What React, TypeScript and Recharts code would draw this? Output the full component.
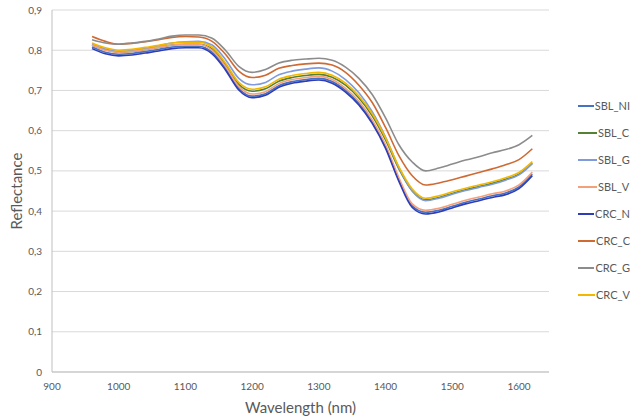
import { LineChart, Line, XAxis, YAxis, CartesianGrid, Legend } from "recharts";

const wavelengths = [
  960, 980, 1000, 1020, 1040, 1060, 1080, 1100, 1120, 1140, 1160, 1180, 1200, 1220, 1240, 1260, 1280,
  1300, 1320, 1340, 1360, 1380, 1400, 1420, 1440, 1460, 1480, 1500, 1520, 1540, 1560, 1580, 1600, 1620,
];

const sblN = [
  0.808, 0.795, 0.79, 0.792, 0.797, 0.802, 0.808, 0.81, 0.81, 0.795, 0.755, 0.705, 0.686, 0.692, 0.712,
  0.722, 0.727, 0.73, 0.722, 0.7, 0.668, 0.622, 0.56, 0.478, 0.413, 0.397, 0.402, 0.412, 0.422, 0.43,
  0.438, 0.445, 0.46, 0.492,
];
const sblC = [
  0.813, 0.801, 0.795, 0.797, 0.802, 0.807, 0.813, 0.815, 0.815, 0.803, 0.763, 0.715, 0.698, 0.704, 0.723,
  0.732, 0.737, 0.74, 0.733, 0.713, 0.681, 0.637, 0.577, 0.505, 0.45, 0.428, 0.434, 0.444, 0.453, 0.461,
  0.469, 0.479, 0.492, 0.519,
];
const sblG = [
  0.815, 0.803, 0.797, 0.799, 0.805, 0.811, 0.818, 0.821, 0.822, 0.813, 0.777, 0.73, 0.714, 0.72, 0.739,
  0.748, 0.753, 0.756, 0.748, 0.727, 0.694, 0.647, 0.584, 0.508, 0.45, 0.426, 0.432, 0.442, 0.451, 0.459,
  0.467, 0.477, 0.49, 0.518,
];
const sblV = [
  0.813, 0.8, 0.795, 0.797, 0.802, 0.807, 0.813, 0.815, 0.815, 0.8, 0.76, 0.71, 0.691, 0.697, 0.717,
  0.727, 0.732, 0.735, 0.727, 0.705, 0.673, 0.627, 0.565, 0.483, 0.418, 0.402, 0.407, 0.417, 0.427, 0.435,
  0.443, 0.45, 0.465, 0.497,
];
const crcN = [
  0.804, 0.791, 0.786, 0.788, 0.793, 0.798, 0.804, 0.806, 0.806, 0.791, 0.751, 0.701, 0.682, 0.688, 0.708,
  0.718, 0.723, 0.726, 0.718, 0.696, 0.664, 0.618, 0.556, 0.474, 0.409, 0.393, 0.398, 0.408, 0.418, 0.426,
  0.434, 0.441, 0.456, 0.488,
];
const crcC = [
  0.834, 0.822, 0.815, 0.817, 0.821, 0.826, 0.832, 0.834, 0.833, 0.822, 0.79, 0.748, 0.732, 0.738, 0.755,
  0.762, 0.766, 0.768, 0.763, 0.745, 0.713, 0.67, 0.608, 0.538, 0.488, 0.465, 0.47, 0.478, 0.487, 0.496,
  0.505, 0.515, 0.528, 0.555,
];
const crcG = [
  0.826, 0.818, 0.815, 0.818, 0.822, 0.828, 0.835, 0.838, 0.838, 0.83, 0.8, 0.76, 0.745, 0.752, 0.768,
  0.775, 0.778, 0.78, 0.775, 0.758, 0.73, 0.69, 0.632, 0.565, 0.522, 0.5, 0.507, 0.517, 0.527, 0.535,
  0.545, 0.553, 0.565, 0.588,
];
const crcV = [
  0.818, 0.806, 0.8, 0.802, 0.807, 0.812, 0.818, 0.82, 0.82, 0.808, 0.768, 0.72, 0.703, 0.709, 0.728,
  0.737, 0.742, 0.745, 0.738, 0.718, 0.686, 0.642, 0.582, 0.51, 0.455, 0.432, 0.438, 0.448, 0.457, 0.465,
  0.473, 0.483, 0.496, 0.523,
];

const xTicks = [900, 1000, 1100, 1200, 1300, 1400, 1500, 1600];
const yTicks = [0, 0.1, 0.2, 0.3, 0.4, 0.5, 0.6, 0.7, 0.8, 0.9];

const series = [
  { key: "SBL_N", label: "SBL_NI", values: sblN, color: "#4472C4" },
  { key: "SBL_C", label: "SBL_C", values: sblC, color: "#548235" },
  { key: "SBL_G", label: "SBL_G", values: sblG, color: "#7F9BDB" },
  { key: "SBL_V", label: "SBL_V", values: sblV, color: "#F4A07A" },
  { key: "CRC_N", label: "CRC_N", values: crcN, color: "#2E3CB8" },
  { key: "CRC_C", label: "CRC_C", values: crcC, color: "#CF6A33" },
  { key: "CRC_G", label: "CRC_G", values: crcG, color: "#8C8C8C" },
  { key: "CRC_V", label: "CRC_V", values: crcV, color: "#F2B800" },
];

const data = wavelengths.map((wl, i) => {
  const row: Record<string, number> = { wl };
  series.forEach((s) => {
    row[s.key] = s.values[i];
  });
  return row;
});

const font = "Lato, 'Open Sans', sans-serif";
const textColor = "#595959";

function fmtY(v: number) {
  return v === 0 ? "0" : v.toFixed(1).replace(".", ",");
}

function LegendList() {
  return (
    <div style={{ fontFamily: font }}>
      {series.map((s) => (
        <div key={s.key} style={{ height: 27, display: "flex", alignItems: "center" }}>
          <span style={{ width: 19, height: 2, background: s.color, display: "inline-block" }} />
          <span style={{ fontSize: 11, color: textColor, marginLeft: 1, whiteSpace: "nowrap" }}>{s.label}</span>
        </div>
      ))}
    </div>
  );
}

export default function App() {
  return (
    <div
      style={{
        position: "absolute",
        left: 0,
        top: 0,
        width: 630,
        height: 420,
        overflow: "hidden",
        background: "#fff",
        fontFamily: font,
      }}
    >
      <LineChart width={630} height={420} data={data} margin={{ top: 10, right: 81, bottom: 0, left: 0 }}>
        <CartesianGrid vertical={false} stroke="#D9D9D9" />
        <XAxis
          dataKey="wl"
          type="number"
          domain={[900, 1645]}
          ticks={xTicks}
          interval={0}
          height={48}
          tickLine={false}
          tickSize={6}
          tickMargin={5}
          stroke="#BFBFBF"
          tick={{ fontSize: 10, fill: textColor, fontFamily: font }}
          label={{
            value: "Wavelength (nm)",
            position: "insideBottom",
            offset: 7,
            style: { fontSize: 15, fill: textColor, fontFamily: font },
          }}
        />
        <YAxis
          type="number"
          domain={[0, 0.9]}
          ticks={yTicks}
          interval={0}
          width={52}
          tickLine={false}
          tickSize={6}
          tickMargin={4}
          stroke="#BFBFBF"
          tickFormatter={fmtY}
          tick={{ fontSize: 10, fill: textColor, fontFamily: font }}
          label={{
            value: "Reflectance",
            angle: -90,
            position: "insideLeft",
            offset: 17,
            style: { fontSize: 15, fill: textColor, fontFamily: font, textAnchor: "middle" },
          }}
        />
        <Legend
          layout="vertical"
          align="center"
          verticalAlign="middle"
          content={() => <LegendList />}
          wrapperStyle={{ left: 578, top: 92, width: 52 }}
        />
        {series.map((s) => (
          <Line
            key={s.key}
            dataKey={s.key}
            name={s.label}
            type="monotone"
            stroke={s.color}
            strokeWidth={1.6}
            dot={false}
            activeDot={false}
            isAnimationActive={false}
          />
        ))}
      </LineChart>
    </div>
  );
}
